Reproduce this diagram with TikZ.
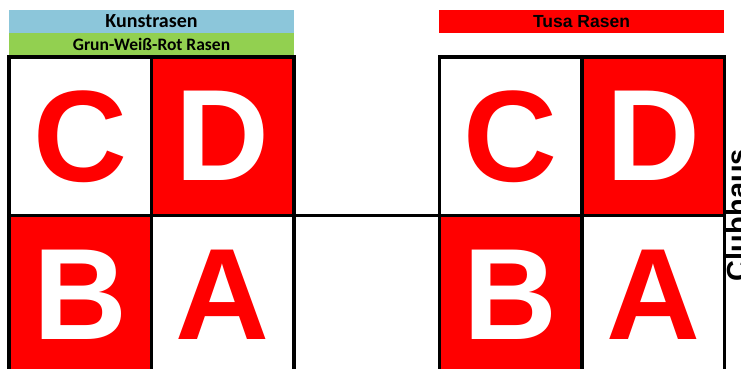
\documentclass[tikz,border=0pt]{standalone}
\usepackage{fontspec}
\setmainfont{Liberation Sans}
\newfontfamily\calibrifont{Carlito}
\usepackage{tikz}
\usetikzlibrary{positioning}
\definecolor{turfred}{HTML}{FF0000}
\definecolor{skyblue}{HTML}{8CC6DA}
\definecolor{limegreen}{HTML}{92D050}
\tikzset{
  field/.style={rectangle, draw=black, line width=3.5pt, minimum width=142.5pt, minimum height=158.5pt,
    inner sep=0pt, outer sep=0pt, font=\fontsize{130}{130}\selectfont\bfseries},
  redfield/.style={field, fill=turfred, text=white},
  whitefield/.style={field, fill=white, text=turfred},
  banner/.style={rectangle, minimum width=285pt, inner sep=0pt, outer sep=0pt, text=black},
}

\begin{document}
\begin{tikzpicture}[x=1pt, y=-1pt,
    hdr/.style={banner, font=\calibrifont\bfseries},
    edge/.style={draw=black, line width=2.5pt}]
  \useasboundingbox (0,0) rectangle (741,369);
  \clip (0,0) rectangle (741,369);

  % Headers
  \node[hdr, fill=skyblue, minimum height=23pt, font=\calibrifont\bfseries\fontsize{20}{20}\selectfont] (kunst) at (151.5,21.5) {Kunstrasen};
  \node[hdr, fill=limegreen, minimum height=22pt, font=\calibrifont\bfseries\fontsize{17.5}{17.5}\selectfont] (gwr) at (151.5,44) {Grun-Weiß-Rot Rasen};
  \node[banner, fill=turfred, minimum height=23pt, font=\bfseries\fontsize{17.5}{17.5}\selectfont] (tusa) at (581.5,21.5) {Tusa Rasen};

  % Left pitch
  \node[whitefield] (lC) at (80.25,136.25) {C};
  \node[redfield] (lD) at (222.75,136.25) {D};
  \node[redfield] (lB) at (80.25,294.75) {B};
  \node[whitefield] (lA) at (222.75,294.75) {A};
  % Right pitch
  \node[whitefield] (rC) at (510.75,136.25) {C};
  \node[redfield] (rD) at (653.25,136.25) {D};
  \node[redfield] (rB) at (510.75,294.75) {B};
  \node[whitefield] (rA) at (653.25,294.75) {A};

  \draw[edge] (lA.north east) -- (rB.north west);

  \node[rotate=90, anchor=north, inner sep=0pt, font=\bfseries\fontsize{29}{29}\selectfont] (club) at (726.5,215) {Clubhaus};
\end{tikzpicture}
\end{document}
